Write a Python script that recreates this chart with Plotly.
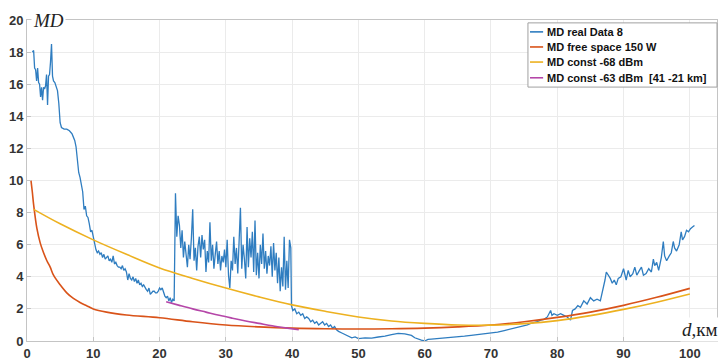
import plotly.graph_objects as go

# ---------------- data ----------------
# MD real Data 8 (blue), distance in km
real_d_a = [0.8, 1.0, 1.15, 1.3, 1.45, 1.6, 1.75, 1.9, 2.05, 2.2, 2.35, 2.5, 2.65, 2.8, 2.95,
            3.1, 3.25, 3.4, 3.55, 3.7, 3.85, 4.0, 4.2, 4.4, 4.6, 4.8, 5.0, 5.2, 5.6, 6.0,
            6.4, 6.8, 7.0, 7.2, 7.4, 7.6, 7.8, 8.0, 8.2, 8.4, 8.6, 8.8, 9.0, 9.2, 9.4,
            9.6, 9.8, 10.0, 10.2]
real_md_a = [18.0, 18.1, 17.0, 16.9, 16.2, 17.0, 16.1, 16.0, 15.2, 15.8, 15.0, 15.8, 15.7, 15.9, 16.6,
             14.7, 16.5, 16.6, 17.4, 18.5, 16.5, 16.2, 16.1, 15.8, 15.6, 14.8, 13.6, 13.3, 13.2, 13.2,
             13.1, 12.9, 12.7, 12.5, 12.1, 11.2, 10.5, 10.2, 9.6, 9.3, 8.2, 8.4, 7.8, 7.7, 7.3,
             6.8, 6.9, 6.5, 6.0]

real_d_b = [10.4, 10.6, 10.8, 11.0, 11.2, 11.4, 11.6, 11.8, 12.0, 12.2, 12.4, 12.6, 12.8, 13.0, 13.2,
            13.4, 13.6, 13.8, 14.0, 14.2, 14.4, 14.6, 14.8, 15.0, 15.2, 15.4, 15.6, 15.8, 16.0, 16.2,
            16.4, 16.6, 16.8, 17.0, 17.2, 17.4, 17.6, 17.8, 18.0, 18.2, 18.4, 18.6, 18.8, 19.0, 19.2,
            19.4, 19.6, 19.8, 20.0, 20.2, 20.4, 20.6, 20.8, 21.0, 21.2, 21.4, 21.6, 21.8, 22.0, 22.2]
real_md_b = [5.7, 5.5, 5.6, 5.4, 5.5, 5.2, 5.4, 5.1, 5.2, 5.3, 5.0, 5.1, 4.9, 5.3, 4.8,
             4.9, 4.7, 4.6, 4.6, 4.5, 4.7, 4.4, 4.5, 4.3, 3.8, 4.2, 3.9, 3.8, 4.0, 3.7,
             3.9, 3.6, 3.8, 3.5, 3.6, 3.4, 3.5, 3.3, 3.2, 3.1, 3.3, 2.9, 3.0, 3.1, 3.1,
             3.0, 3.0, 3.1, 3.3, 3.2, 3.3, 3.0, 2.8, 2.7, 2.8, 2.5, 2.7, 2.4, 2.6, 2.5]

real_d_c = [22.4, 22.6, 22.8, 23.0, 23.2, 23.4, 23.6, 23.8, 24.0, 24.2, 24.4, 24.6, 24.8, 25.0, 25.2,
            25.4, 25.6, 25.8, 26.0, 26.2, 26.4, 26.6, 26.8, 27.0, 27.2, 27.4, 27.6, 27.8, 28.0, 28.2,
            28.4, 28.6, 28.8, 29.0, 29.2, 29.4, 29.6, 29.8, 30.0, 30.2, 30.4, 30.6, 30.8, 31.0, 31.2,
            31.4, 31.6, 31.8, 32.0, 32.2, 32.4, 32.6, 32.8, 33.0, 33.2, 33.4, 33.6, 33.8, 34.0, 34.2,
            34.4, 34.6, 34.8, 35.0, 35.2, 35.4, 35.6, 35.8, 36.0, 36.2, 36.4, 36.6, 36.8, 37.0, 37.2,
            37.4, 37.6, 37.8, 38.0, 38.2, 38.4, 38.6, 38.8, 39.0, 39.2, 39.4, 39.6, 39.8, 39.9]
real_md_c = [9.2, 6.5, 7.8, 7.2, 5.8, 6.9, 5.2, 6.2, 5.4, 4.6, 6.0, 5.1, 6.4, 8.2, 5.0,
             5.8, 4.4, 5.9, 6.5, 5.2, 6.6, 5.7, 6.3, 4.3, 5.6, 4.9, 7.4, 5.0, 6.0, 4.5,
             5.4, 6.2, 4.8, 5.6, 4.4, 5.3, 4.9, 5.7, 4.6, 6.3, 4.1, 3.3, 5.0, 4.4, 6.5,
             4.8, 5.8, 4.2, 6.2, 8.3, 4.5, 6.0, 5.1, 3.9, 7.1, 4.6, 6.4, 5.2, 6.8, 4.3,
             7.5, 4.1, 5.5, 3.9, 6.0, 4.8, 6.7, 4.5, 5.6, 4.2, 5.3, 4.7, 5.9, 4.0, 6.1,
             4.4, 5.5, 3.6, 5.2, 3.1, 4.6, 3.4, 6.5, 3.2, 5.0, 3.3, 6.3, 5.8, 2.2]

real_d_d = [40.1, 40.4, 40.7, 41.0, 41.3, 41.6, 41.9, 42.2, 42.5, 42.8, 43.1, 43.4, 43.7, 44.0, 44.3,
            44.6, 44.9, 45.2, 45.5, 45.8, 46.1, 46.4, 46.7, 47.0, 47.5, 48.0, 48.5, 49.0, 49.5, 50.0,
            51, 52, 53, 54, 55, 56, 57, 58, 58.5, 59, 59.5, 60, 60.5, 61, 62,
            63, 64, 65, 66, 67, 68, 69, 70, 71, 72, 73, 74, 75, 75.5, 76,
            76.5, 77, 77.5, 78]
real_md_d = [1.9, 2.0, 1.7, 1.8, 1.6, 1.7, 1.4, 1.5, 1.4, 1.2, 1.3, 1.1, 1.2, 1.0, 1.1,
             1.2, 1.0, 1.1, 0.9, 1.0, 0.8, 0.9, 0.7, 0.6, 0.5, 0.4, 0.35, 0.2, 0.25, 0.15,
             0.2, 0.18, 0.25, 0.3, 0.4, 0.48, 0.45, 0.35, 0.2, 0.1, 0.05, 0.0, 0.1, 0.12, 0.15,
             0.2, 0.22, 0.25, 0.3, 0.35, 0.4, 0.45, 0.5, 0.55, 0.65, 0.75, 0.85, 0.95, 1.0, 1.1,
             1.15, 1.2, 1.3, 1.35]

real_d_e = [78.5, 79.0, 79.2, 79.5, 80.0, 80.5, 81.0, 81.5, 82.0, 82.3, 82.7, 83.1, 83.5, 84.0, 84.5,
            85.0, 85.5, 86.0, 86.5, 86.9, 87.2, 87.4, 87.7, 88.0, 88.3, 88.6, 88.9, 89.2, 89.6, 90.0,
            90.4, 90.7, 91.0, 91.4, 91.7, 92.0, 92.4, 92.7, 93.0, 93.4, 93.8, 94.2, 94.5, 94.7, 95.0,
            95.3, 95.7, 96.0, 96.2, 96.5, 96.9, 97.2, 97.5, 97.7, 98.0, 98.4, 98.7, 98.9, 99.2, 99.5,
            99.8, 100.1, 100.4, 100.7]
real_md_e = [1.5, 1.9, 1.6, 1.7, 1.6, 1.7, 1.6, 1.5, 1.3, 1.9, 2.0, 2.2, 2.1, 2.5, 2.3,
             2.7, 2.5, 2.6, 2.5, 3.2, 3.8, 4.3, 4.1, 3.9, 3.6, 3.8, 3.5, 3.9, 4.0, 4.5,
             3.8, 4.4, 4.0, 4.2, 4.6, 4.1, 4.4, 4.6, 4.1, 4.2, 4.5, 4.3, 5.1, 4.7, 4.9,
             4.4, 5.2, 6.2, 5.3, 5.0, 5.3, 5.5, 6.2, 5.8, 5.6, 6.0, 6.8, 6.3, 6.5, 6.9,
             6.8, 7.0, 7.1, 7.2]

# MD free space 150 W (red)
free_d = [0.6, 0.8, 1.0, 1.5, 2.0, 2.5, 3.0, 3.5, 4, 5, 6, 7, 8, 9, 10, 12, 15, 20, 25, 30,
          35, 40, 45, 50, 55, 60, 65, 70, 75, 80, 85, 90, 95, 100]
free_md = [10.0, 9.3, 8.5, 7.0, 6.1, 5.5, 5.0, 4.6, 4.1, 3.5, 3.0, 2.65, 2.4, 2.2, 2.0, 1.8, 1.62, 1.45, 1.2, 1.0,
           0.88, 0.8, 0.76, 0.75, 0.76, 0.8, 0.88, 1.0, 1.2, 1.47, 1.8, 2.22, 2.72, 3.28]

# MD const -68 dBm (yellow)
c68_d = [1, 5, 10, 15, 20, 25, 30, 35, 40, 45, 50, 55, 60, 65, 70, 75, 80, 85, 90, 95, 100]
c68_md = [8.2, 7.3, 6.3, 5.4, 4.55, 3.9, 3.3, 2.75, 2.25, 1.85, 1.5, 1.25, 1.1, 1.0, 0.99, 1.08, 1.27, 1.58, 1.97, 2.42, 2.93]

# MD const -63 dBm [41-21 km] (magenta)
c63_d = [21, 23, 25, 27, 29, 31, 33, 35, 37, 39, 41]
c63_md = [2.45, 2.22, 2.0, 1.8, 1.6, 1.42, 1.25, 1.1, 0.95, 0.82, 0.7]

x_ticks = [0, 10, 20, 30, 40, 50, 60, 70, 80, 90, 100]
y_ticks = [0, 2, 4, 6, 8, 10, 12, 14, 16, 18, 20]

names = ["MD real Data 8", "MD free space 150 W", "MD const -68 dBm", "MD const -63 dBm  [41 -21 km]"]
colors = ["#2F7DC0", "#D95319", "#EDB120", "#B546A8"]

# ---------------- figure ----------------
real_d = real_d_a + real_d_b + real_d_c + real_d_d + real_d_e
real_md = real_md_a + real_md_b + real_md_c + real_md_d + real_md_e

fig = go.Figure()
fig.add_trace(go.Scatter(x=real_d, y=real_md, mode="lines", name=names[0],
                         line=dict(color=colors[0], width=1.3)))
fig.add_trace(go.Scatter(x=free_d, y=free_md, mode="lines", name=names[1],
                         line=dict(color=colors[1], width=1.6, shape="spline")))
fig.add_trace(go.Scatter(x=c68_d, y=c68_md, mode="lines", name=names[2],
                         line=dict(color=colors[2], width=1.6, shape="spline")))
fig.add_trace(go.Scatter(x=c63_d, y=c63_md, mode="lines", name=names[3],
                         line=dict(color=colors[3], width=1.6, shape="spline")))

tickfont = dict(family="Liberation Sans", size=13, color="#333333", weight="bold")
axis_common = dict(showgrid=True, gridcolor="#ebebeb", gridwidth=1, zeroline=False,
                   showline=True, linecolor="#c4c4c4", linewidth=1, mirror=True,
                   ticks="inside", ticklen=4, tickcolor="#c4c4c4",
                   tickfont=tickfont, automargin=False)

fig.update_layout(
    width=721, height=360,
    template="none",
    paper_bgcolor="white", plot_bgcolor="white",
    margin=dict(l=27, r=4, t=20, b=19),
    showlegend=False,
    xaxis=dict(range=[0, 104.1], tickvals=x_ticks, ticktext=[str(v) for v in x_ticks], **axis_common),
    yaxis=dict(range=[0, 20], tickvals=y_ticks, ticktext=[str(v) for v in y_ticks], **axis_common),
)

# compact legend box (MATLAB-style) drawn in paper coordinates
leg_x0, leg_x1, leg_y0, leg_y1 = 0.726, 1.0, 0.791, 0.991
fig.add_shape(type="rect", xref="paper", yref="paper", x0=leg_x0, x1=leg_x1, y0=leg_y0, y1=leg_y1,
              fillcolor="white", line=dict(color="#a0a0a0", width=1), layer="above")
leg_rows = [0.963, 0.916, 0.869, 0.820]
for nm, col, yy in zip(names, colors, leg_rows):
    fig.add_shape(type="line", xref="paper", yref="paper", x0=0.729, x1=0.748, y0=yy, y1=yy,
                  line=dict(color=col, width=1.6), layer="above")
    fig.add_annotation(xref="paper", yref="paper", x=0.750, y=yy, xanchor="left", yanchor="middle",
                       text=nm, showarrow=False,
                       font=dict(family="Liberation Sans", size=11, color="#111111", weight="bold"))

fig.add_annotation(xref="paper", yref="paper", x=0.006, y=0.997, xanchor="left", yanchor="middle",
                   text="<i>MD</i>", showarrow=False, bgcolor="white",
                   font=dict(family="Liberation Serif", size=19, color="#222222"))
fig.add_annotation(xref="paper", yref="paper", x=1.005, y=0.035, xanchor="right", yanchor="middle",
                   text="<i>d</i>,км", showarrow=False, bgcolor="white",
                   font=dict(family="Liberation Serif", size=19, color="#222222"))

fig.write_html("out.html", config={"displayModeBar": False},
               post_script="document.body.style.margin='0px';")
